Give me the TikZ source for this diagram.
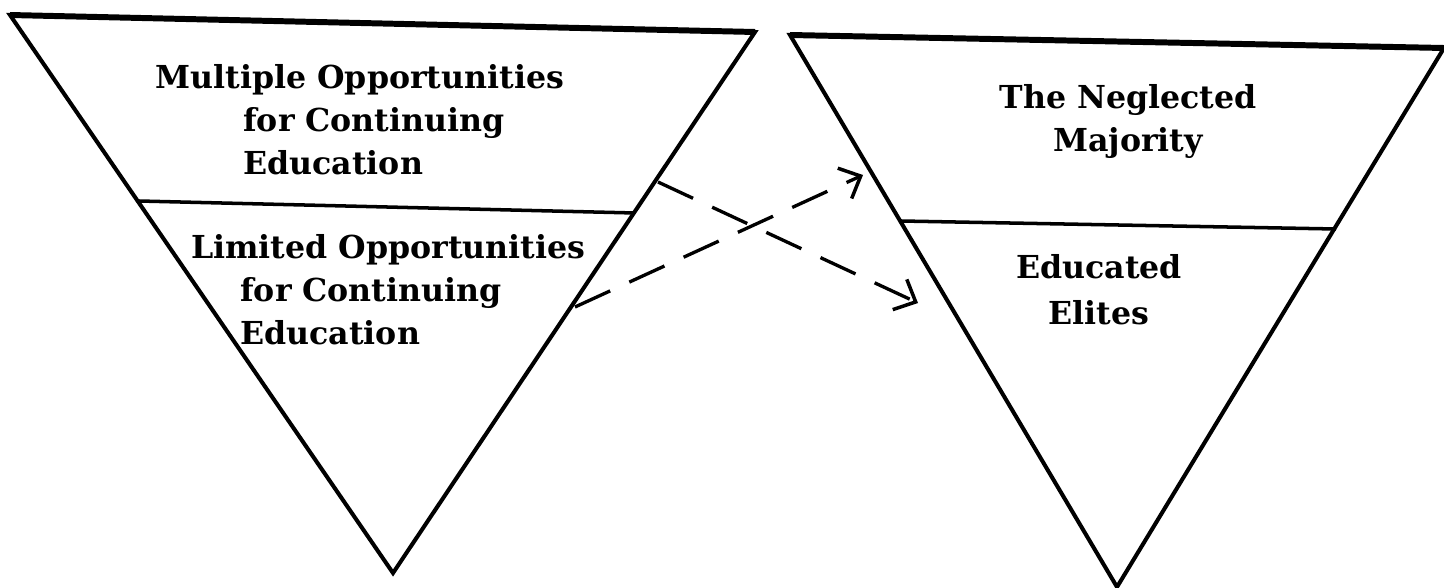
\documentclass[tikz,border=0pt]{standalone}
\usepackage{fontspec}
\setmainfont{DejaVu Serif}
\usetikzlibrary{arrows.meta}

\begin{document}
\begin{tikzpicture}[x=0.02cm,y=-0.02cm,
  tri/.style={draw=black,line width=2.3pt,line join=miter},
  rim/.style={draw=black,line width=3.4pt},
  split/.style={draw=black,line width=2pt},
  lbl/.style={font=\bfseries\fontsize{18}{24.6}\selectfont,inner sep=0pt},
  flow/.style={draw=black,line width=1.9pt,dash pattern=on 22pt off 12pt,
               -{Straight Barb[length=10pt,width=19pt,line width=2pt]}}]
\useasboundingbox (0,0) rectangle (1444,588);

% ---------------- left triangle: opportunities ----------------
\coordinate (ltl) at (10,15);
\coordinate (ltr) at (755,32);
\coordinate (lapex) at (393,573);
\draw[tri] (ltl) -- (ltr) -- (lapex) -- cycle;
\draw[rim] (ltl) -- (ltr);
\draw[split] (139,201) -- (635,213);
\node[lbl,align=left,anchor=north west] (multi) at (243,64)
  {\hspace*{-50pt}Multiple Opportunities\\for Continuing\\Education};
\node[lbl,align=left,anchor=north west] (limit) at (240,234)
  {\hspace*{-28pt}Limited Opportunities\\for Continuing\\Education};

% ---------------- right triangle: who is reached ----------------
\coordinate (rtl) at (790,35);
\coordinate (rtr) at (1444,48);
\coordinate (rapex) at (1117,587);
\draw[tri] (rtl) -- (rtr) -- (rapex) -- cycle;
\draw[rim] (rtl) -- (rtr);
\draw[split] (901,221) -- (1336,229);
\node[lbl,align=center,anchor=north] (neglect) at (1128,84)
  {The Neglected\\Majority};
\node[lbl,align=center,anchor=north] (elite) at (1099,254)
  {Educated\\[1.5pt]Elites};

% ---------------- crossing arrows ----------------
\coordinate (multiout) at (658,182);
\coordinate (eliteto) at (918,303);
\coordinate (limitout) at (575,307);
\coordinate (neglectto) at (863,175);
\draw[flow] (multiout) -- (eliteto);
\draw[flow] (limitout) -- (neglectto);

\end{tikzpicture}
\end{document}
